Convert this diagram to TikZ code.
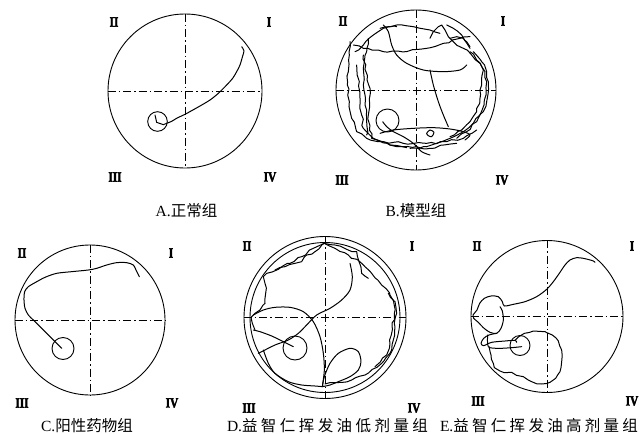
\documentclass[tikz,border=0pt]{standalone}
\usepackage{fontspec}
\usetikzlibrary{decorations.pathmorphing}
\setmainfont{Liberation Serif}
\newfontfamily\cjk{Noto Sans CJK SC}
\newfontfamily\numfont[FakeBold=3]{Liberation Serif}
\begin{document}
\begin{tikzpicture}[x=1pt,y=-1pt,
  pool/.style={draw, circle, inner sep=0pt, line width=0.9pt, minimum size=#1},
  target/.style={draw, circle, inner sep=0pt, line width=0.9pt, minimum size=#1},
  axisline/.style={line width=0.9pt, dash pattern=on 8pt off 3pt on 1.5pt off 3pt},
  track/.style={line width=1pt, line join=round, line cap=round},
  jit/.style={track, decorate, decoration={random steps, segment length=5pt, amplitude=1.2pt}},
  quad/.style={font=\numfont\bfseries\fontsize{14}{14}\selectfont, inner sep=0pt},
  captext/.style={font=\fontsize{15.5}{18}\selectfont, inner sep=0pt, anchor=base}]
\useasboundingbox[fill=white] (0,0) rectangle (643,434);

% ---------------- A ----------------
\node[pool=154pt] (pA) at (185,91) {};
\draw[axisline] (pA.west) -- (pA.east);
\draw[axisline] (pA.north) -- (pA.south);
\node[target=19.6pt] (tA) at (157.5,121.5) {};
\node[quad] (A2) at (114,22) {\scalebox{0.8}[1]{II}};
\node[quad] (A1) at (269,22) {\scalebox{0.8}[1]{I}};
\node[quad] (A3) at (115,177) {\scalebox{0.8}[1]{III}};
\node[quad] (A4) at (270,177) {\scalebox{0.8}[1]{IV}};
\node[captext] (capA) at (186.5,216) {A.{\cjk 正常组}};
\begin{scope}[shift={(100,0)}, scale=0.33333]
\draw[track] plot[smooth] coordinates {(425,140)(432,152)(428,168)(420,195)(410,215)(398,235)(380,255)(355,280)(330,300)(300,318)(275,332)(255,343)(240,350)(228,356)(215,364)(200,370)(190,374)} -- (170,367) -- (165,345);
\end{scope}

% ---------------- B ----------------
\node[pool=160pt] (pB) at (416,90) {};
\draw[axisline] (pB.west) -- (pB.east);
\draw[axisline] (pB.north) -- (pB.south);
\node[target=23pt] (tB) at (387.5,120.5) {};
\node[quad] (B2) at (343,21) {\scalebox{0.8}[1]{II}};
\node[quad] (B1) at (503,21) {\scalebox{0.8}[1]{I}};
\node[quad] (B3) at (342,180) {\scalebox{0.8}[1]{III}};
\node[quad] (B4) at (502,180) {\scalebox{0.8}[1]{IV}};
\node[captext] (capB) at (416,216) {B.{\cjk 模型组}};
\begin{scope}[shift={(330,5)}, scale=0.33333]
\draw[jit] (70,120)--(100,130)--(160,140)--(230,140)--(290,130)--(340,115)--(390,100)--(420,95);
\draw[track] plot[smooth] coordinates {(160,60)(175,80)(185,120)(200,150)(230,175)(280,195)(340,200)(390,195)(410,180)};
\draw[jit] (300,100)--(310,80)--(325,65)--(335,60)--(345,75)--(355,95)--(370,110)--(400,130)--(425,150)--(450,175)--(465,200)--(470,230)--(468,270)--(462,300)--(450,330)--(430,355)--(400,380)--(360,400)--(320,415)--(280,425)--(240,430);
\draw[jit] (60,110)--(58,150)--(55,200)--(52,240)--(58,290)--(65,340)--(80,380)--(110,400)--(160,410)--(220,415)--(290,415)--(350,410)--(400,400)--(440,375);
\draw[jit] (115,100)--(110,140)--(100,190)--(100,240)--(105,300)--(110,350)--(110,390);
\draw[jit] (150,70)--(200,60)--(250,65)--(300,75)--(330,85);
\draw[track] plot[smooth] coordinates {(300,195)(310,240)(325,290)(340,330)(355,365)};
\draw[track] plot[smooth] coordinates {(150,385)(190,375)(250,370)(310,368)(360,372)(400,380)(420,390)(405,405)};
\draw[track] plot[smooth cycle] coordinates {(290,385)(300,375)(312,382)(305,395)(295,392)};
\draw[track] plot[smooth] coordinates {(158,350)(170,365)(190,380)(220,395)(250,415)(275,440)(300,450)};
\draw[jit] (420,140)--(440,165)--(460,195)--(455,240)--(450,280)--(440,320)--(420,350)--(395,375)--(360,395);
\draw[jit] (75,140)--(100,120)--(130,90)--(160,70)--(200,65);
\draw[jit] (80,180)--(88,230)--(90,280)--(95,330)--(100,370)--(130,400)--(180,420)--(230,428);
\draw[jit] (350,60)--(370,70)--(395,90)--(410,110)--(420,125);
\draw[jit] (360,100)--(380,95)--(400,100)--(420,130);
\draw[jit] (430,140)--(455,170)--(470,200)--(475,240)--(470,290)--(460,320)--(440,350)--(410,380)--(380,400);
\draw[jit] (100,150)--(120,250)--(115,330)--(125,400)--(200,425)--(300,430)--(380,415);
\end{scope}

% ---------------- C ----------------
\node[pool=150pt] (pC) at (90,320) {};
\draw[axisline] (pC.west) -- (pC.east);
\draw[axisline] (pC.north) -- (pC.south);
\node[target=22pt] (tC) at (63,348.5) {};
\node[quad] (C2) at (22,253) {\scalebox{0.8}[1]{II}};
\node[quad] (C1) at (171,253) {\scalebox{0.8}[1]{I}};
\node[quad] (C3) at (22,403) {\scalebox{0.8}[1]{III}};
\node[quad] (C4) at (172,403) {\scalebox{0.8}[1]{IV}};
\node[captext] (capC) at (87,431) {C.{\cjk 阳性药物组}};
\begin{scope}[shift={(0,220)}, scale=0.33333]
\draw[track] plot[smooth] coordinates {(185,385)(170,370)(150,350)(125,325)(100,300)(85,285)(75,265)(72,240)(74,215)(85,200)(105,188)(135,172)(170,160)(215,155)(265,150)(290,145)(320,135)(350,128)(380,128)(400,135)(408,150)(418,170)};
\end{scope}

% ---------------- D ----------------
\node[pool=162pt] (pD) at (325,317.5) {};
\node[pool=150pt] (pDi) at (325,317.5) {};
\draw[axisline] (pD.west) -- (pD.east);
\draw[axisline] (pD.north) -- (pD.south);
\node[target=24pt] (tD) at (295,348) {};
\node[quad] (D2) at (247,246) {\scalebox{0.8}[1]{II}};
\node[quad] (D1) at (412,246) {\scalebox{0.8}[1]{I}};
\node[quad] (D3) at (249,408) {\scalebox{0.8}[1]{III}};
\node[quad] (D4) at (414,408) {\scalebox{0.8}[1]{IV}};
\node[captext] (capD) at (327.5,431) {\makebox[201pt][s]{D.\cjk 益 智 仁 挥 发 油 低 剂 量 组}};
\begin{scope}[shift={(235,230)}, scale=0.33333]
\draw[jit] (60,300)--(52,280)--(48,262)--(60,250)--(75,240)--(90,220)--(92,190)--(90,160)--(85,140)--(95,130)--(130,118)--(165,100)--(200,80)--(235,55)--(268,40)--(300,55)--(340,75)--(380,100)--(410,130)--(440,165)--(465,195)--(480,215)--(485,250)--(480,290)--(475,330)--(465,370)--(440,400)--(412,418)--(390,435)--(350,450)--(300,458)--(270,462);
\draw[jit] (268,40)--(300,45)--(335,58)--(365,65)--(372,95)--(380,130)--(400,145);
\draw[jit] (120,120)--(150,110)--(180,100)--(200,95)--(215,75)--(240,65)--(268,40);
\draw[track] plot[smooth] coordinates {(345,100)(352,140)(345,180)(320,210)(285,235)(245,255)(215,285)(190,310)(160,330)(120,345)(80,365)(70,370)};
\draw[track] plot[smooth] coordinates {(55,255)(85,240)(120,232)(165,232)(205,245)(235,275)(255,320)(265,370)(268,420)(262,470)};
\draw[track] plot[smooth] coordinates {(262,470)(268,440)(285,400)(310,370)(345,355)(370,365)(378,395)(370,420)(345,440)(310,455)(285,465)(262,470)};
\draw[track] plot[smooth] coordinates {(85,360)(100,400)(120,430)(160,455)(200,465)(240,468)(262,470)};
\draw[track] plot[smooth] coordinates {(175,350)(145,335)(110,318)(75,305)(55,300)};
\draw[jit] (460,190)--(475,210)--(478,250)--(472,300)--(465,340)--(455,375)--(420,410);
\end{scope}

% ---------------- E ----------------
\node[pool=152pt] (pE) at (547,316.5) {};
\draw[axisline] (pE.west) -- (pE.east);
\draw[axisline] (pE.north) -- (pE.south);
\node[target=20pt] (tE) at (520,345.5) {};
\node[quad] (E2) at (477,246) {\scalebox{0.8}[1]{II}};
\node[quad] (E1) at (632,246) {\scalebox{0.8}[1]{I}};
\node[quad] (E3) at (478,401) {\scalebox{0.8}[1]{III}};
\node[quad] (E4) at (632,401) {\scalebox{0.8}[1]{IV}};
\node[captext] (capE) at (539,431) {\makebox[198pt][s]{E.\cjk 益 智 仁 挥 发 油 高 剂 量 组}};
\begin{scope}[shift={(465,235)}, scale=0.33333]
\draw[track] plot[smooth] coordinates {(390,82)(385,78)(372,74)(355,70)(335,68)(315,75)(300,90)(285,112)(265,140)(245,163)(215,185)(180,200)(145,208)(118,213)(112,200)(100,185)(78,183)(58,190)(44,205)(36,225)(24,240)(26,250)(40,262)(55,278)(75,292)(95,295)(108,280)(115,255)(112,228)(105,215)};
\draw[track] plot[smooth] coordinates {(95,295)(72,300)(56,310)(48,325)(56,332)(80,322)(120,318)(150,316)(155,322)};
\draw[track] plot[smooth] coordinates {(68,300)(70,335)(100,340)(140,338)(170,335)};
\draw[jit] (72,335)--(78,360)--(85,385)--(88,398)--(105,408)--(140,412)--(175,425)--(200,440)--(230,447)--(255,442)--(272,430)--(285,410)--(290,380)--(290,345)--(280,318)--(262,300)--(240,290)--(205,288)--(178,295)--(160,306)--(150,316);
\end{scope}
\end{tikzpicture}
\end{document}
